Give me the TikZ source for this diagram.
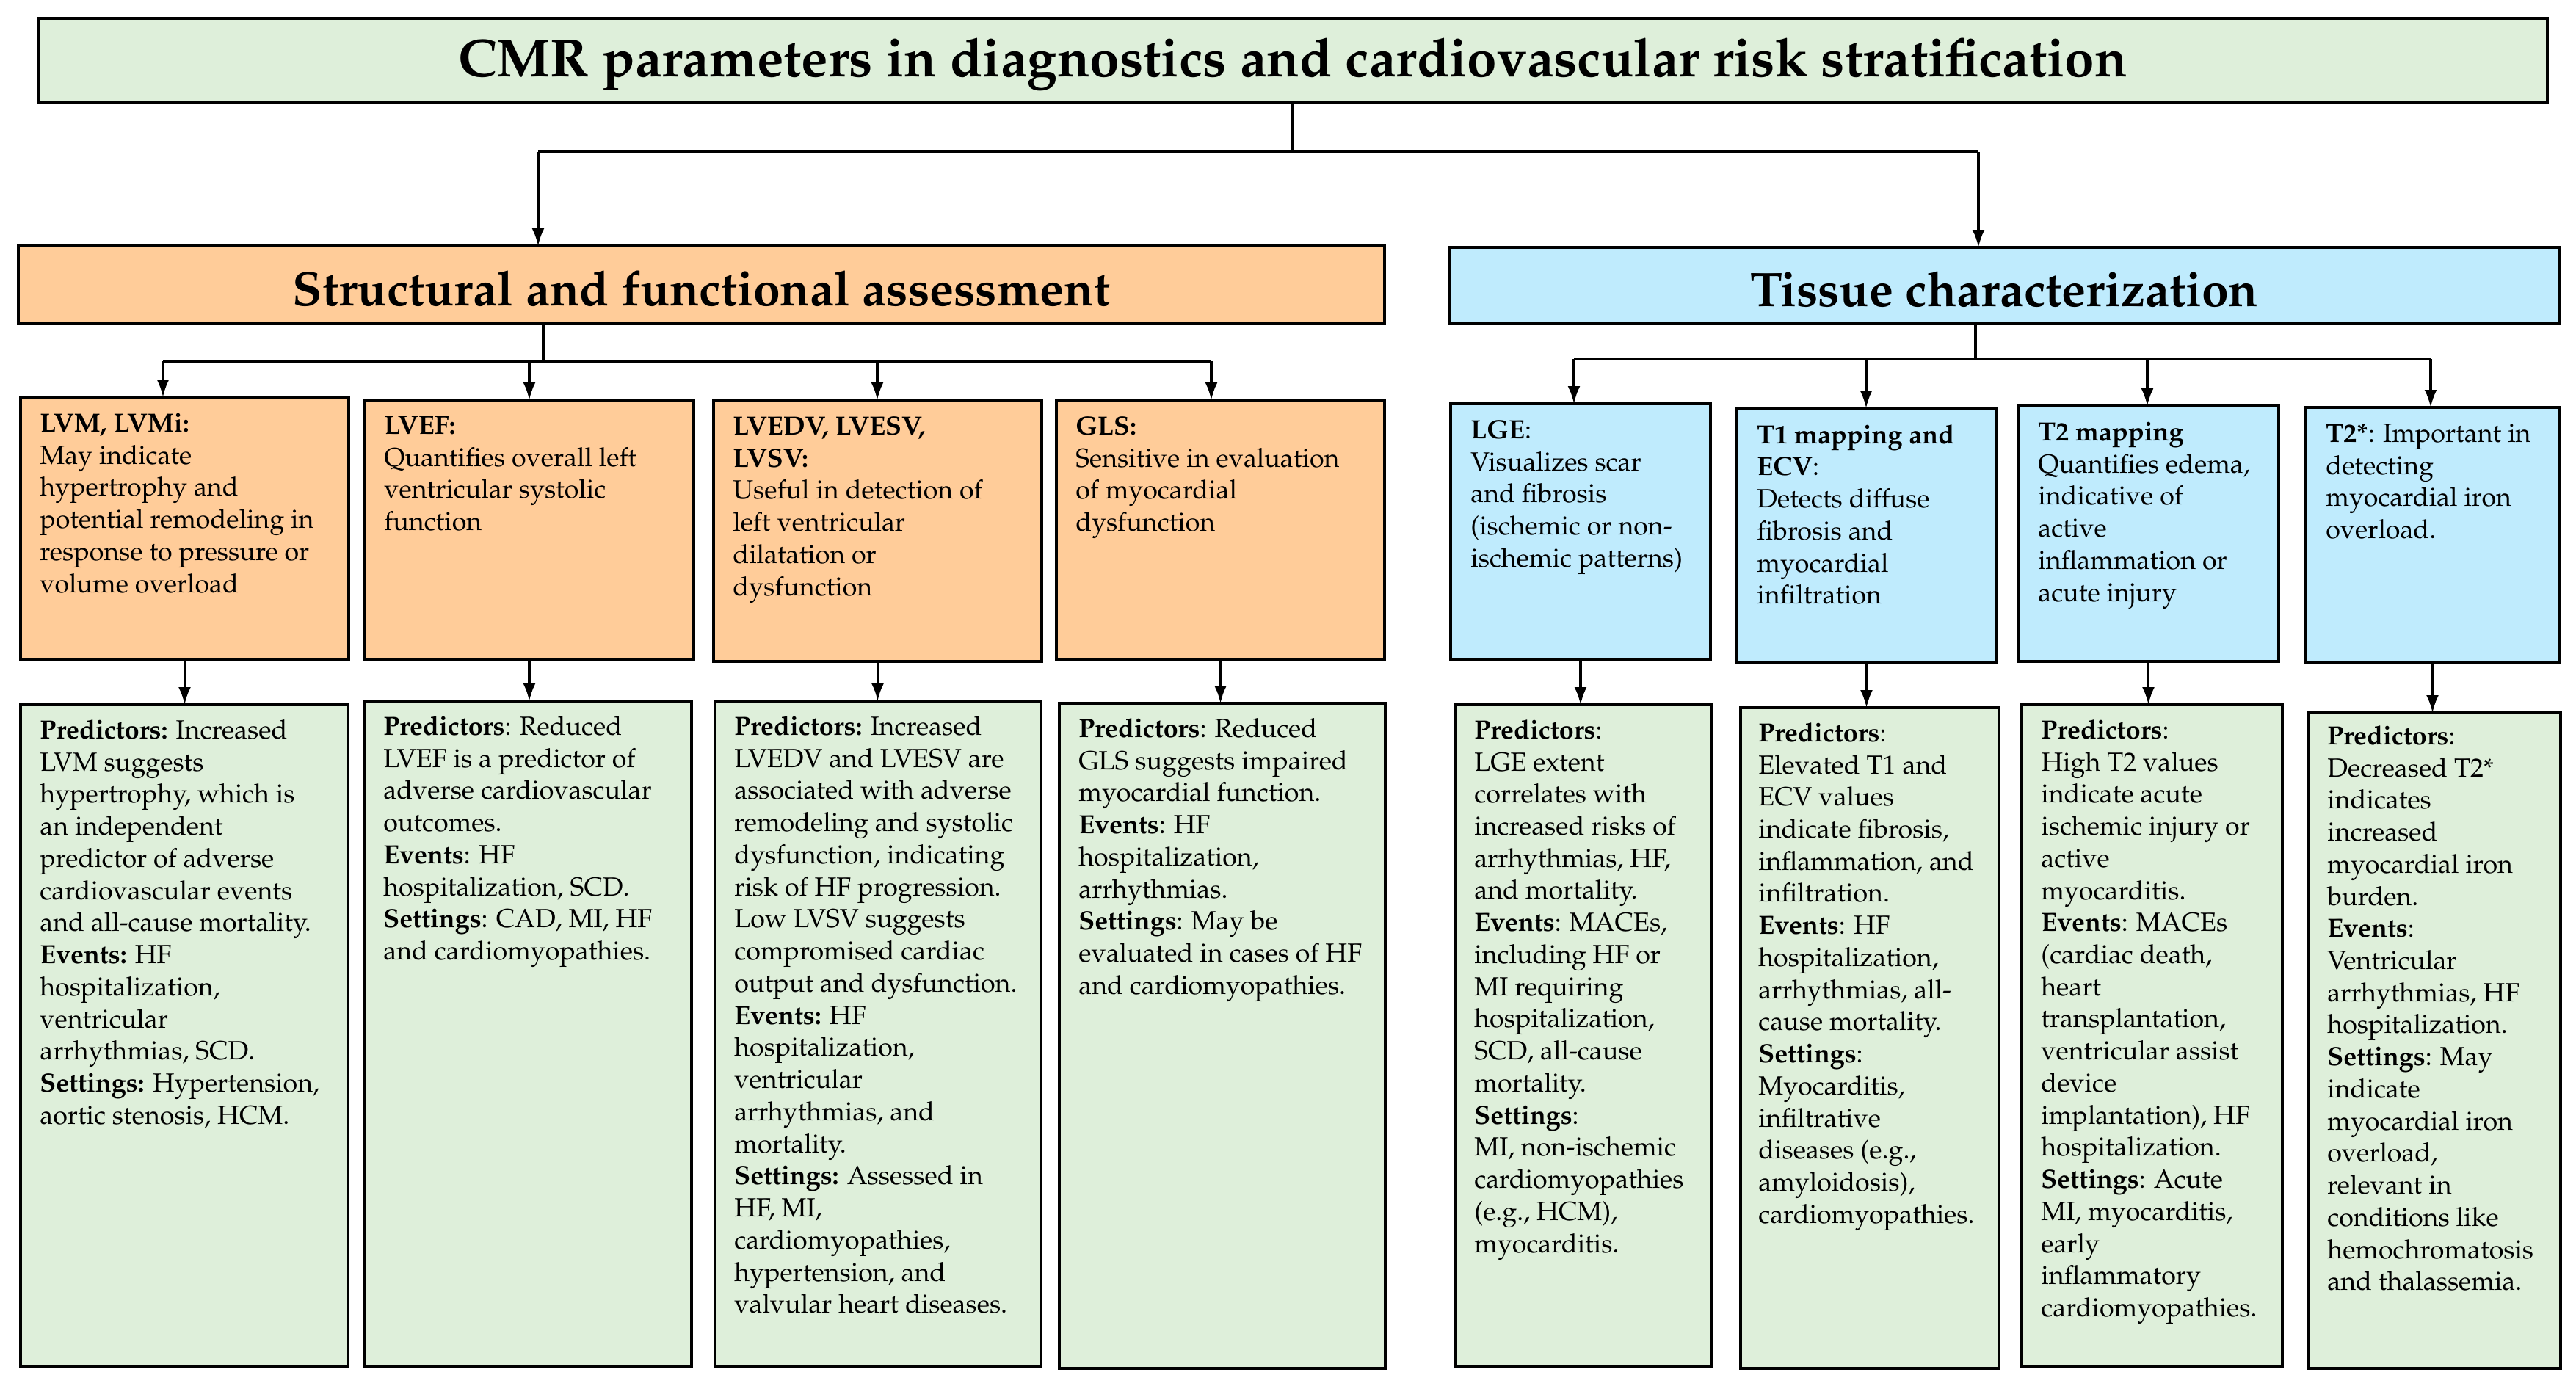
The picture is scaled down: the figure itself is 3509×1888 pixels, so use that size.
\documentclass[tikz,border=0pt]{standalone}
\usepackage[T1]{fontenc}
\usepackage{mathpazo}
\usetikzlibrary{arrows.meta,calc}
\definecolor{cgreen}{HTML}{DEEFDA}
\definecolor{corange}{HTML}{FFCC99}
\definecolor{cblue}{HTML}{BFEBFD}
\newcommand\bx[6]{\node[#2, anchor=north west, minimum width={(#5-#3)*0.02cm}, minimum height={(#6-#4)*0.02cm}] (#1) at (#3,#4) {};}
\tikzset{
  boxbase/.style={draw=black, line width=0.09cm, inner sep=0pt, outer sep=0pt},
  gbox/.style={boxbase, fill=cgreen},
  obox/.style={boxbase, fill=corange},
  bbox/.style={boxbase, fill=cblue},
  txt/.style={anchor=north west, inner sep=0pt, align=left, font=\fontsize{20.4}{24.9}\selectfont},
  head/.style={inner sep=0pt, yshift=-0.1cm, font=\fontsize{37.6}{42}\selectfont\bfseries},
  tithead/.style={inner sep=0pt, yshift=-0.12cm, font=\fontsize{41.5}{46}\selectfont\bfseries},
  con/.style={line width=0.065cm},
  arr/.style={line width=0.065cm, -{Latex[length=0.48cm,width=0.34cm]}}
}
\begin{document}
\begin{tikzpicture}[x=0.02cm, y=-0.02cm]
\useasboundingbox (0,0) rectangle (3509,1888);
% level 1
\bx{title}{gbox}{52}{25}{3470}{139}
\node[tithead] (titlet) at (title.center) {CMR parameters in diagnostics and cardiovascular risk stratification};
% level 2
\bx{struct}{obox}{25}{335}{1886}{441}
\node[head] (structt) at (struct.center) {Structural and functional assessment};
\bx{tissue}{bbox}{1975}{337}{3486}{441}
\node[head] (tissuet) at (tissue.center) {Tissue characterization};
% level 3
\bx{o1}{obox}{28}{541}{475}{898}
\bx{o2}{obox}{497}{545}{945}{898}
\bx{o3}{obox}{972}{545}{1419}{901}
\bx{o4}{obox}{1439}{545}{1886}{898}
\bx{b1}{bbox}{1976}{550}{2330}{898}
\bx{b2}{bbox}{2366}{556}{2719}{903}
\bx{b3}{bbox}{2749}{553}{3104}{901}
\bx{b4}{bbox}{3141}{555}{3486}{903}
% level 4
\bx{g1}{gbox}{28}{960}{474}{1861}
\bx{g2}{gbox}{496}{955}{942}{1861}
\bx{g3}{gbox}{974}{955}{1418}{1861}
\bx{g4}{gbox}{1443}{958}{1887}{1864}
\bx{g5}{gbox}{1983}{960}{2331}{1861}
\bx{g6}{gbox}{2371}{964}{2723}{1864}
\bx{g7}{gbox}{2754}{960}{3109}{1861}
\bx{g8}{gbox}{3144}{971}{3488}{1864}
% level 3 texts
\node[txt] (o1t) at ($(o1.north west)+(26,22)$) {\textbf{LVM, LVMi:}\\May indicate\\hypertrophy and\\potential remodeling in\\response to pressure or\\volume overload};
\node[txt] (o2t) at ($(o2.north west)+(26,22)$) {\textbf{LVEF:}\\Quantifies overall left\\ventricular systolic\\function};
\node[txt] (o3t) at ($(o3.north west)+(26,22)$) {\textbf{LVEDV, LVESV,}\\\textbf{LVSV:}\\Useful in detection of\\left ventricular\\dilatation or\\dysfunction};
\node[txt] (o4t) at ($(o4.north west)+(26,22)$) {\textbf{GLS:}\\Sensitive in evaluation\\of myocardial\\dysfunction};
\node[txt] (b1t) at ($(b1.north west)+(27,22)$) {\textbf{LGE}:\\Visualizes scar\\and fibrosis\\(ischemic or non-\\ischemic patterns)};
\node[txt] (b2t) at ($(b2.north west)+(27,22)$) {\textbf{T1 mapping and}\\\textbf{ECV}:\\Detects diffuse\\fibrosis and\\myocardial\\infiltration};
\node[txt] (b3t) at ($(b3.north west)+(27,22)$) {\textbf{T2 mapping}\\Quantifies edema,\\indicative of\\active\\inflammation or\\acute injury};
\node[txt] (b4t) at ($(b4.north west)+(27,22)$) {\textbf{T2*}: Important in\\detecting\\myocardial iron\\overload.};
% level 4 texts
\node[txt] (g1t) at ($(g1.north west)+(26,20)$) {\textbf{Predictors:} Increased\\LVM suggests\\hypertrophy, which is\\an independent\\predictor of adverse\\cardiovascular events\\and all-cause mortality.\\\textbf{Events:} HF\\hospitalization,\\ventricular\\arrhythmias, SCD.\\\textbf{Settings:} Hypertension,\\aortic stenosis, HCM.};
\node[txt] (g2t) at ($(g2.north west)+(26,20)$) {\textbf{Predictors}: Reduced\\LVEF is a predictor of\\adverse cardiovascular\\outcomes.\\\textbf{Events}: HF\\hospitalization, SCD.\\\textbf{Settings}: CAD, MI, HF\\and cardiomyopathies.};
\node[txt] (g3t) at ($(g3.north west)+(26,20)$) {\textbf{Predictors:} Increased\\LVEDV and LVESV are\\associated with adverse\\remodeling and systolic\\dysfunction, indicating\\risk of HF progression.\\Low LVSV suggests\\compromised cardiac\\output and dysfunction.\\\textbf{Events:} HF\\hospitalization,\\ventricular\\arrhythmias, and\\mortality.\\\textbf{Settings:} Assessed in\\HF, MI,\\cardiomyopathies,\\hypertension, and\\valvular heart diseases.};
\node[txt] (g4t) at ($(g4.north west)+(26,20)$) {\textbf{Predictors}: Reduced\\GLS suggests impaired\\myocardial function.\\\textbf{Events}: HF\\hospitalization,\\arrhythmias.\\\textbf{Settings}: May be\\evaluated in cases of HF\\and cardiomyopathies.};
\node[txt] (g5t) at ($(g5.north west)+(25,20)$) {\textbf{Predictors}:\\LGE extent\\correlates with\\increased risks of\\arrhythmias, HF,\\and mortality.\\\textbf{Events}: MACEs,\\including HF or\\MI requiring\\hospitalization,\\SCD, all-cause\\mortality.\\\textbf{Settings}:\\MI, non-ischemic\\cardiomyopathies\\(e.g., HCM),\\myocarditis.};
\node[txt] (g6t) at ($(g6.north west)+(24,20)$) {\textbf{Predictors}:\\Elevated T1 and\\ECV values\\indicate fibrosis,\\inflammation, and\\infiltration.\\\textbf{Events}: HF\\hospitalization,\\arrhythmias, all-\\cause mortality.\\\textbf{Settings}:\\Myocarditis,\\infiltrative\\diseases (e.g.,\\amyloidosis),\\cardiomyopathies.};
\node[txt] (g7t) at ($(g7.north west)+(26,20)$) {\textbf{Predictors}:\\High T2 values\\indicate acute\\ischemic injury or\\active\\myocarditis.\\\textbf{Events}: MACEs\\(cardiac death,\\heart\\transplantation,\\ventricular assist\\device\\implantation), HF\\hospitalization.\\\textbf{Settings}: Acute\\MI, myocarditis,\\early\\inflammatory\\cardiomyopathies.};
\node[txt] (g8t) at ($(g8.north west)+(26,17)$) {\textbf{Predictors}:\\Decreased T2*\\indicates\\increased\\myocardial iron\\burden.\\\textbf{Events}:\\Ventricular\\arrhythmias, HF\\hospitalization.\\\textbf{Settings}: May\\indicate\\myocardial iron\\overload,\\relevant in\\conditions like\\hemochromatosis\\and thalassemia.};
% connectors level 1 -> 2
\coordinate (jt) at (1761,207);
\coordinate (jl) at (733,207);
\coordinate (jr) at (2695,207);
\draw[con] (title.south) -- (jt);
\draw[con] (jl) -- (jr);
\draw[arr] (jl) -- (struct.north -| jl);
\draw[arr] (jr) -- (tissue.north -| jr);
% level 2 -> 3 (structural)
\coordinate (js) at (740,492);
\coordinate (s1) at (222,492);
\coordinate (s2) at (721,492);
\coordinate (s3) at (1195,492);
\coordinate (s4) at (1650,492);
\draw[con] (struct.south -| js) -- (js);
\draw[con] (s1) -- (s4);
\draw[arr] (s1) -- (o1.north -| s1);
\draw[arr] (s2) -- (o2.north -| s2);
\draw[arr] (s3) -- (o3.north -| s3);
\draw[arr] (s4) -- (o4.north -| s4);
% level 2 -> 3 (tissue)
\coordinate (jb) at (2691,489);
\coordinate (t1) at (2144,489);
\coordinate (t2) at (2542,489);
\coordinate (t3) at (2925,489);
\coordinate (t4) at (3311,489);
\draw[con] (tissue.south -| jb) -- (jb);
\draw[con] (t1) -- (t4);
\draw[arr] (t1) -- (b1.north -| t1);
\draw[arr] (t2) -- (b2.north -| t2);
\draw[arr] (t3) -- (b3.north -| t3);
\draw[arr] (t4) -- (b4.north -| t4);
% level 3 -> 4
\foreach \a/\b in {o1/g1,o2/g2,o3/g3,o4/g4,b1/g5,b2/g6,b3/g7,b4/g8}
  \draw[arr] (\a.south) -- (\a.south |- \b.north);
\end{tikzpicture}
\end{document}
